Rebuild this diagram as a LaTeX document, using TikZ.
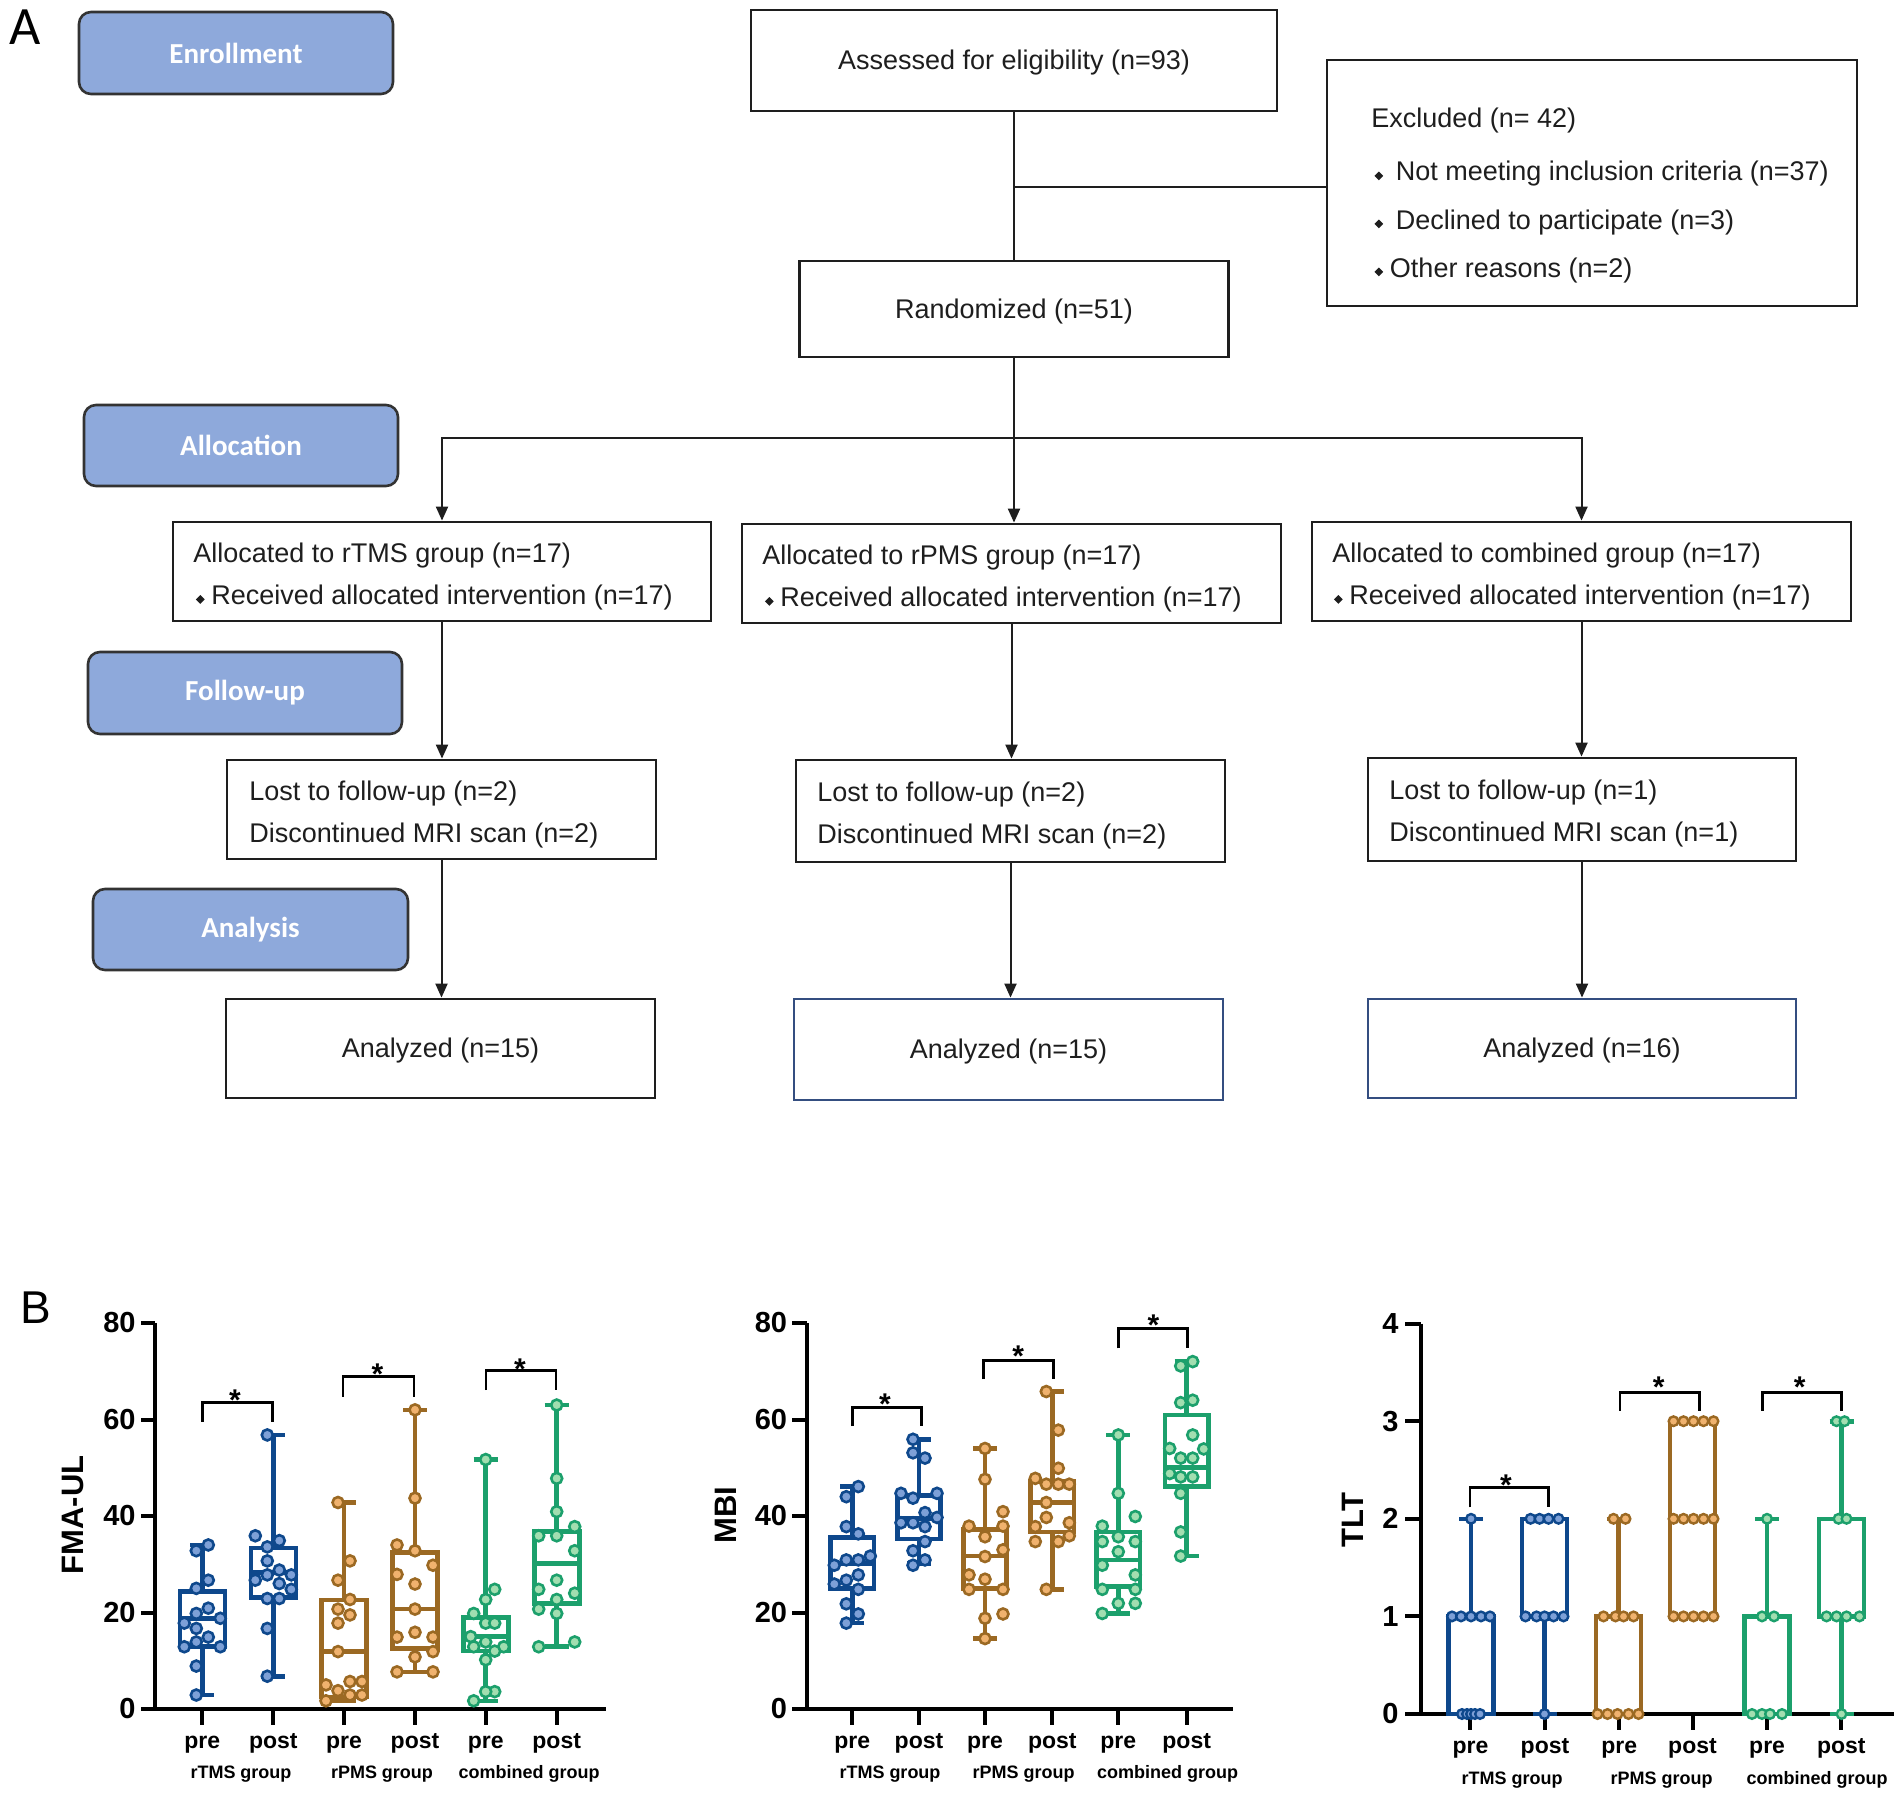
\documentclass[tikz,border=0pt]{standalone}
\usepackage{fontspec}
\setmainfont{Liberation Sans}
\newfontfamily\calibri{Carlito}
\usetikzlibrary{arrows.meta}
\definecolor{stagefill}{RGB}{142,169,219}
\definecolor{ink}{RGB}{30,30,30}
\definecolor{navyb}{RGB}{52,78,128}
\definecolor{cb}{RGB}{14,72,140}
\definecolor{cbf}{RGB}{125,160,215}
\definecolor{cr}{RGB}{155,105,35}
\definecolor{crf}{RGB}{240,178,110}
\definecolor{cg}{RGB}{28,160,108}
\definecolor{cgf}{RGB}{162,222,176}
\newcommand\bul{\raisebox{1.0pt}{\rotatebox[origin=c]{45}{\rule{3.1pt}{3.1pt}}}}
\newcommand\dn[1]{\raisebox{-1.2pt}[\height][\depth]{#1}}
\newcommand\flowfont{\fontsize{13.5pt}{21pt}\selectfont}
\newcommand\yz{1709}\newcommand\ys{4.825}\newcommand\hw{22.5}\newcommand\dr{2.45pt}
\newcommand\bxp[7]{%
 \draw[line width=2.3pt,#7] ({#1-\hw},{\yz-\ys*(#3)}) rectangle ({#1+\hw},{\yz-\ys*(#5)});
 \draw[line width=2.3pt,#7] ({#1-\hw},{\yz-\ys*(#4)}) -- ({#1+\hw},{\yz-\ys*(#4)});
 \draw[line width=2.3pt,#7] (#1,{\yz-\ys*(#5)}) -- (#1,{\yz-\ys*(#6)}) ({#1-12},{\yz-\ys*(#6)}) -- ({#1+12},{\yz-\ys*(#6)});
 \draw[line width=2.3pt,#7] (#1,{\yz-\ys*(#3)}) -- (#1,{\yz-\ys*(#2)}) ({#1-12},{\yz-\ys*(#2)}) -- ({#1+12},{\yz-\ys*(#2)});
}
\newcommand\pts[3]{\foreach \v/\o in {#3} {\filldraw[#2] ({#1+(\o)},{\yz-\ys*(\v)}) circle[radius=\dr];}}
\begin{document}
\begin{tikzpicture}[x=0.5pt,y=-0.5pt,
 stage/.style={draw=black!80, fill=stagefill, rounded corners=6pt, line width=1.3pt, text=white, font=\calibri\bfseries\fontsize{14.5pt}{17pt}\selectfont, inner sep=0pt},
 fbox/.style={draw=ink, line width=1.4pt, font=\flowfont, text=ink, inner sep=0pt},
 ftext/.style={font=\flowfont, text=ink, inner sep=0pt},
 conn/.style={draw=ink, line width=1pt},
 arr/.style={conn, -{Triangle[length=7pt,width=6pt]}},
 axisln/.style={line width=2pt, black},
 brk/.style={line width=1.4pt, black},
 ticklbl/.style={font=\bfseries\fontsize{14.5pt}{17pt}\selectfont, inner sep=0pt},
 pplbl/.style={font=\bfseries\fontsize{11.5pt}{14pt}\selectfont, inner sep=0pt},
 grplbl/.style={font=\bfseries\fontsize{9pt}{11pt}\selectfont, inner sep=0pt},
 ylbl/.style={font=\bfseries\fontsize{15.5pt}{18pt}\selectfont, inner sep=0pt},
 sigstar/.style={font=\bfseries\fontsize{15pt}{18pt}\selectfont, inner sep=0pt},
 dotb/.style={draw=cb, fill=cbf, line width=1.3pt},
 dotr/.style={draw=cr, fill=crf, line width=1.3pt},
 dotg/.style={draw=cg, fill=cgf, line width=1.3pt},
]
\useasboundingbox (0,0) rectangle (1902,1798);
\fill[white] (0,0) rectangle (1902,1798);

% ---------------- Panel A ----------------
\node[font=\calibri\fontsize{27pt}{30pt}\selectfont, inner sep=0pt] (lblA) at (25.5,27.5) {A};

\node[stage, minimum width=157pt, minimum height=41pt] (enr) at (236,53) {Enrollment};
\node[stage, minimum width=157pt, minimum height=40.5pt] (alloc) at (241,445.5) {Allocation};
\node[stage, minimum width=157pt, minimum height=41pt] (fup) at (245,693) {Follow-up};
\node[stage, minimum width=157.5pt, minimum height=40.5pt] (anal) at (250.5,929.5) {Analysis};

\node[fbox, minimum width=263pt, minimum height=50.5pt] (assess) at (1014,60.5) {\dn{Assessed for eligibility (n=93)}};
\node[fbox, minimum width=265pt, minimum height=123pt] (excl) at (1592,183) {};
\node[ftext, anchor=base west] (ex1) at (1371,128) {Excluded (n= 42)};
\node[ftext, anchor=base west] (ex2) at (1374,181) {\bul\hspace{6.3pt}Not meeting inclusion criteria (n=37)};
\node[ftext, anchor=base west] (ex3) at (1374,229) {\bul\hspace{6.3pt}Declined to participate (n=3)};
\node[ftext, anchor=base west] (ex4) at (1374,277) {\bul\hspace{3.4pt}Other reasons (n=2)};
\node[fbox, minimum width=214.5pt, minimum height=48pt] (rand) at (1014,309) {\dn{Randomized (n=51)}};

\node[fbox, minimum width=269pt, minimum height=49.5pt] (a1) at (442,571.5) {};
\node[fbox, minimum width=269.5pt, minimum height=49.5pt] (a2) at (1011.5,573.5) {};
\node[fbox, minimum width=269.5pt, minimum height=49.5pt] (a3) at (1581.5,571.5) {};
\node[ftext, anchor=base west] (a1t1) at (193,562.5) {Allocated to rTMS group (n=17)};
\node[ftext, anchor=base west] (a1t2) at (195.5,604.5) {\bul\hspace{3.3pt}Received allocated intervention (n=17)};
\node[ftext, anchor=base west] (a2t1) at (762,564.5) {Allocated to rPMS group (n=17)};
\node[ftext, anchor=base west] (a2t2) at (764.5,606.5) {\bul\hspace{3.3pt}Received allocated intervention (n=17)};
\node[ftext, anchor=base west] (a3t1) at (1332,562.5) {Allocated to combined group (n=17)};
\node[ftext, anchor=base west] (a3t2) at (1333.5,604.5) {\bul\hspace{3.3pt}Received allocated intervention (n=17)};

\node[fbox, minimum width=214.5pt, minimum height=49.5pt] (l1) at (441.5,809.5) {};
\node[fbox, minimum width=214.5pt, minimum height=51pt] (l2) at (1010.5,811) {};
\node[fbox, minimum width=214pt, minimum height=51.5pt] (l3) at (1582,809.5) {};
\node[ftext, anchor=base west] (l1t1) at (249,800) {Lost to follow-up (n=2)};
\node[ftext, anchor=base west] (l1t2) at (249,842) {Discontinued MRI scan (n=2)};
\node[ftext, anchor=base west] (l2t1) at (817,801) {Lost to follow-up (n=2)};
\node[ftext, anchor=base west] (l2t2) at (817,843) {Discontinued MRI scan (n=2)};
\node[ftext, anchor=base west] (l3t1) at (1389,799.5) {Lost to follow-up (n=1)};
\node[ftext, anchor=base west] (l3t2) at (1389,841.5) {Discontinued MRI scan (n=1)};

\node[fbox, minimum width=214.5pt, minimum height=49.5pt] (n1) at (440.5,1048.5) {\dn{Analyzed (n=15)}};
\node[fbox, draw=navyb, minimum width=214.5pt, minimum height=50.5pt] (n2) at (1008.5,1049.5) {\dn{Analyzed (n=15)}};
\node[fbox, draw=navyb, minimum width=214pt, minimum height=49.5pt] (n3) at (1582,1048.5) {\dn{Analyzed (n=16)}};

\draw[conn] (assess.south) -- (rand.north);
\coordinate (exj) at (1014,187);
\draw[conn] (exj) -- (exj -| excl.west);
\coordinate (split) at (1014,438);
\draw[conn] (rand.south) -- (split);
\draw[arr] (split) -| (a1.north);
\draw[arr] (split) -- (split |- a2.north);
\draw[arr] (split) -| (a3.north);
\draw[arr] (a1.south) -- (a1.south |- l1.north);
\draw[arr] (a2.south) -- (a2.south |- l2.north);
\draw[arr] (a3.south) -- (a3.south |- l3.north);
\draw[arr] (l1.south) -- (l1.south |- n1.north);
\draw[arr] (l2.south) -- (l2.south |- n2.north);
\draw[arr] (l3.south) -- (l3.south |- n3.north);

% ---------------- Panel B ----------------
\node[font=\fontsize{23pt}{26pt}\selectfont, inner sep=0pt] (lblB) at (35.5,1308) {B};

% ===== Plot 1: FMA-UL =====
\draw[axisln] (155,1323) -- (155,1709);
\draw[axisln] (141,1709) -- (606,1709);
\foreach \v in {0,20,40,60,80} {
  \draw[axisln] (141,{1709-4.825*\v}) -- (155,{1709-4.825*\v});
  \node[ticklbl, anchor=east] (pa\v) at (136,{1709-4.825*\v}) {\v};
}
\foreach \x in {202.3,273.3,344,415,485.7,556.7} \draw[axisln] (\x,1709) -- (\x,1725);
\foreach \x/\t [count=\i] in {202.3/pre,273.3/post,344/pre,415/post,485.7/pre,556.7/post}
  \node[pplbl, anchor=base] (pp\i) at (\x,1748.5) {\t};
\node[grplbl, anchor=base] (pg1) at (241,1778) {rTMS group};
\node[grplbl, anchor=base] (pg2) at (382,1778) {rPMS group};
\node[grplbl, anchor=base] (pg3) at (529,1778) {combined group};
\node[ylbl, rotate=90] (pyl) at (73,1515) {FMA-UL};

\renewcommand\yz{1709}\renewcommand\ys{4.825}\renewcommand\hw{22.5}\renewcommand\dr{2.75pt}
\bxp{202.3}{2.9}{12.9}{18.8}{24.3}{34}{cb}
\pts{202.3}{dotb}{34/6, 32.8/-6, 26.7/6, 25/-6, 20.9/6, 19.8/-6, 17.8/-18, 18.8/18, 16.7/-6, 14.9/6, 13.9/-6, 12.9/-18, 12.9/18, 8.9/-6, 2.9/-6}
\bxp{273.3}{6.8}{23.1}{28.3}{33.4}{56.8}{cb}
\pts{273.3}{dotb}{56.8/-6, 35.9/-18, 34.9/6, 33.6/-6, 30.7/-6, 28.8/6, 27.8/-6, 27.8/18, 26.7/-18, 26/6, 24.8/18, 22.9/-6, 22.9/6, 16.7/-6, 6.8/-6}
\bxp{344}{1.7}{2.5}{11.9}{22.6}{42.8}{cr}
\pts{344}{dotr}{42.8/-6, 30.7/6, 26.7/-6, 22.7/6, 20.7/-6, 19.5/6, 17.8/-6, 11.9/-6, 5.7/6, 5.7/18, 5.0/-18, 3.8/-6, 2.9/6, 2.9/18, 1.7/-18}
\bxp{415}{7.7}{12.6}{20.7}{32.4}{62}{cr}
\pts{415}{dotr}{62/0, 43.7/0, 34/-18, 32.8/0, 29.8/18, 27.9/-18, 25.9/0, 20.7/0, 14.9/-18, 15.9/0, 14.9/18, 11.9/18, 10.8/0, 7.7/-18, 7.7/18}
\bxp{485.7}{1.7}{12}{15}{19}{51.7}{cg}
\pts{485.7}{dotg}{51.7/0, 24.8/9, 22.7/0, 19.8/-12, 17.8/0, 17.8/9, 15/-15, 13.9/0, 12.9/18, 12.9/-12, 12/9, 10.2/0, 3.6/9, 3.6/0, 1.7/-12}
\bxp{556.7}{12.9}{21.9}{30.2}{36.8}{63}{cg}
\pts{556.7}{dotg}{63/0, 47.8/0, 40.9/0, 37.8/18, 35.9/-18, 35.9/0, 32.8/18, 26.7/0, 24.8/-18, 24/18, 22.7/0, 20.7/-18, 19.8/0, 12.9/-18, 13.9/18}

\draw[brk] (202.3,1421.7) -- (202.3,1402.7) -- (272.3,1402.7) -- (272.3,1421.7);
\node[sigstar, anchor=base] (s11) at (235,1410.8) {*};
\draw[brk] (343,1396.7) -- (343,1376.7) -- (414,1376.7) -- (414,1396.7);
\node[sigstar, anchor=base] (s12) at (377.5,1384.5) {*};
\draw[brk] (486,1390) -- (486,1370.7) -- (556,1370.7) -- (556,1390);
\node[sigstar, anchor=base] (s13) at (520,1379.2) {*};

% ===== Plot 2: MBI =====
\draw[axisln] (807.3,1323) -- (807.3,1709);
\draw[axisln] (792,1709) -- (1233,1709);
\foreach \v in {0,20,40,60,80} {
  \draw[axisln] (792,{1709-4.825*\v}) -- (807.3,{1709-4.825*\v});
  \node[ticklbl, anchor=east] (qa\v) at (787.5,{1709-4.825*\v}) {\v};
}
\foreach \x in {852.3,919,985,1052.3,1118.3,1186.7} \draw[axisln] (\x,1709) -- (\x,1725);
\foreach \x/\t [count=\i] in {852.3/pre,919/post,985/pre,1052.3/post,1118.3/pre,1186.7/post}
  \node[pplbl, anchor=base] (qp\i) at (\x,1748.5) {\t};
\node[grplbl, anchor=base] (qg1) at (890,1778) {rTMS group};
\node[grplbl, anchor=base] (qg2) at (1023.7,1778) {rPMS group};
\node[grplbl, anchor=base] (qg3) at (1167.6,1778) {combined group};
\node[ylbl, rotate=90] (qyl) at (726,1515) {MBI};

\renewcommand\hw{21.7}
\bxp{852.3}{17.8}{25}{30.2}{35.6}{46.1}{cb}
\pts{852.3}{dotb}{46.1/6, 44/-6, 37.8/-6, 36.3/6, 30.9/-6, 30.9/6, 31.7/18, 29.8/-18, 27.8/6, 25.9/-18, 26.7/-6, 24.8/6, 21.8/-6, 19.7/6, 17.8/-6}
\bxp{919}{30.2}{35.2}{39.5}{44.2}{55.9}{cb}
\pts{919}{dotb}{55.9/-6, 53.1/-6, 52/6, 44.7/-18, 44.7/18, 43.7/-6, 40.7/6, 38.6/-18, 38.6/-6, 39.7/18, 37.8/6, 34.7/6, 32.8/-6, 30.9/6, 29.8/-6}
\bxp{985}{14.6}{25}{31.7}{37.2}{54}{cr}
\pts{985}{dotr}{54/0, 47.6/0, 40.9/18, 37.9/-16, 37.9/18, 35.7/0, 33/18, 31.6/0, 27.8/-16, 26.9/0, 24.8/18, 24.8/-16, 19.7/18, 18.8/0, 14.6/0}
\bxp{1052.3}{24.8}{36.7}{42.8}{47.1}{65.8}{cr}
\pts{1052.3}{dotr}{65.8/-6, 57.8/6, 49.9/6, 47.8/-17, 46.6/-6, 46.6/6, 46.6/17, 42.8/-6, 39.7/-6, 37.8/-17, 38.6/17, 34.7/-17, 34.7/6, 35.9/17, 24.8/-6}
\bxp{1118.3}{19.8}{25.4}{30.9}{36.7}{56.8}{cg}
\pts{1118.3}{dotg}{56.8/0, 44.7/0, 39.9/17, 37.9/-16, 35.7/0, 34.7/-16, 34.7/17, 32.6/0, 29.8/-16, 27.8/17, 24.8/-16, 24.8/17, 21.9/0, 21.9/17, 19.8/-16}
\bxp{1186.7}{31.7}{46.1}{50}{60.9}{72}{cg}
\pts{1186.7}{dotg}{72/6, 71.1/-6, 64/6, 63.5/-6, 56.8/6, 54/-17, 53.9/17, 52/-6, 52/6, 48.8/-17, 48.1/-6, 48.1/6, 44.7/-6, 36.7/-6, 31.7/-6}

\draw[brk] (852.3,1426) -- (852.3,1407.3) -- (921.7,1407.3) -- (921.7,1426);
\node[sigstar, anchor=base] (s21) at (885,1414.2) {*};
\draw[brk] (983.3,1379) -- (983.3,1360.7) -- (1053.3,1360.7) -- (1053.3,1379);
\node[sigstar, anchor=base] (s22) at (1018.3,1366.5) {*};
\draw[brk] (1118.8,1348.3) -- (1118.8,1328.3) -- (1187.8,1328.3) -- (1187.8,1348.3);
\node[sigstar, anchor=base] (s23) at (1153.5,1335.8) {*};

% ===== Plot 3: TLT =====
\draw[axisln] (1421,1323.6) -- (1421,1714);
\draw[axisln] (1405,1714) -- (1894,1714);
\foreach \v in {0,1,2,3,4} {
  \draw[axisln] (1405,{1714-97.6*\v}) -- (1421,{1714-97.6*\v});
  \node[ticklbl, anchor=east] (ra\v) at (1399,{1714-97.6*\v}) {\v};
}
\foreach \x in {1470.4,1545,1619.2,1692.5,1767.1,1841.3} \draw[axisln] (\x,1714) -- (\x,1730);
\foreach \x/\t [count=\i] in {1470.4/pre,1545/post,1619.2/pre,1692.5/post,1767.1/pre,1841.3/post}
  \node[pplbl, anchor=base] (rp\i) at (\x,1753.5) {\t};
\node[grplbl, anchor=base] (rg1) at (1512,1784.5) {rTMS group};
\node[grplbl, anchor=base] (rg2) at (1661.6,1784.5) {rPMS group};
\node[grplbl, anchor=base] (rg3) at (1817,1784.5) {combined group};
\node[ylbl, rotate=90] (ryl) at (1353,1520) {TLT};

\renewcommand\yz{1714}\renewcommand\ys{97.6}\renewcommand\hw{22.5}\renewcommand\dr{2.4pt}
\tikzset{dotb/.style={draw=cb, fill=cbf, line width=1.2pt}, dotr/.style={draw=cr, fill=crf, line width=1.2pt}, dotg/.style={draw=cg, fill=cgf, line width=1.2pt}}
\bxp{1471}{0}{0}{1}{1}{2}{cb}
\pts{1471}{dotb}{2/0, 1/-19, 1/-10, 1/0, 1/10, 1/19, 0/-9, 0/-4, 0/0, 0/4, 0/9}
\bxp{1544.5}{0}{1}{1}{2}{2}{cb}
\pts{1544.5}{dotb}{2/-14, 2/-5, 2/4, 2/14, 1/-19, 1/-8, 1/0, 1/9, 1/19, 0/0}
\bxp{1618.5}{0}{0}{0}{1}{2}{cr}
\pts{1618.5}{dotr}{2/-5, 2/7, 1/-15, 1/-3, 1/5, 1/15, 0/-21, 0/-11, 0/-1, 0/10, 0/20}
\bxp{1692.5}{1}{1}{2}{3}{3}{cr}
\pts{1692.5}{dotr}{3/-19, 3/-9, 3/1, 3/11, 3/21, 2/-19, 2/-9, 2/1, 2/11, 2/21, 1/-19, 1/-9, 1/1, 1/11, 1/21}
\bxp{1767}{0}{0}{0}{1}{2}{cg}
\pts{1767}{dotg}{2/0, 1/-5, 1/7, 0/-15, 0/-5, 0/3, 0/15}
\bxp{1841.5}{0}{1}{1}{2}{3}{cg}
\pts{1841.5}{dotg}{3/-5, 3/3, 2/-3, 2/5, 1/-15, 1/-5, 1/5, 1/18, 0/0}

\draw[brk] (1470,1507.3) -- (1470,1487.3) -- (1548.3,1487.3) -- (1548.3,1507.3);
\node[sigstar, anchor=base] (s31) at (1506,1495.8) {*};
\draw[brk] (1620,1410.7) -- (1620,1392.3) -- (1699.3,1392.3) -- (1699.3,1410.7);
\node[sigstar, anchor=base] (s32) at (1658.8,1397.5) {*};
\draw[brk] (1762.7,1410.7) -- (1762.7,1392.3) -- (1841.7,1392.3) -- (1841.7,1410.7);
\node[sigstar, anchor=base] (s33) at (1799.6,1397.5) {*};
\end{tikzpicture}
\end{document}
